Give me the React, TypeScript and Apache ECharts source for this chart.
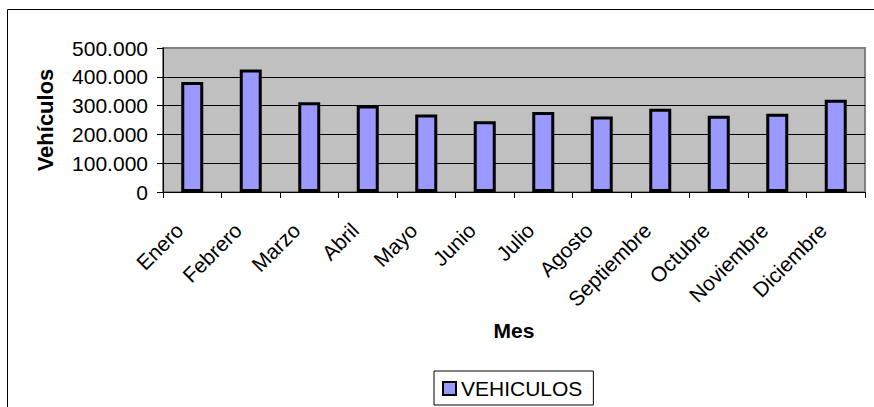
import React, { useEffect, useRef } from "react";
import * as echarts from "echarts";

const months = ["Enero", "Febrero", "Marzo", "Abril", "Mayo", "Junio", "Julio", "Agosto", "Septiembre", "Octubre", "Noviembre", "Diciembre"];
const vehiculos = [382000, 425000, 312000, 300000, 269000, 246000, 278000, 262000, 289000, 265000, 272000, 320000];
const seriesName = "VEHICULOS";
const xTitle = "Mes";
const yTitle = "Vehículos";

const fmt = (v: number) => String(v).replace(/\B(?=(\d{3})+(?!\d))/g, ".");

export default function App() {
  const ref = useRef<HTMLDivElement>(null);
  useEffect(() => {
    const chart = echarts.init(ref.current!, null, { renderer: "svg" });
    const font = "Liberation Sans, Arial, sans-serif";
    chart.setOption({
      animation: false,
      backgroundColor: "#ffffff",
      textStyle: { fontFamily: font },
      graphic: [
        {
          type: "rect",
          shape: { x: 7.5, y: 9.5, width: 1000, height: 1000 },
          style: { fill: "none", stroke: "#000", lineWidth: 1 },
          silent: true,
        },
      ],
      grid: {
        left: 163,
        top: 48,
        right: 9,
        bottom: 215,
        show: true,
        backgroundColor: "#c0c0c0",
        borderColor: "#808080",
        borderWidth: 2,
      },
      legend: {
        left: 434,
        top: 371,
        data: [seriesName],
        icon: "rect",
        itemWidth: 13,
        itemHeight: 13,
        padding: [7, 11, 6, 8],
        borderColor: "#000",
        borderWidth: 1,
        backgroundColor: "#fff",
        textStyle: { fontSize: 21, color: "#000", fontFamily: font },
        itemStyle: { borderColor: "#000", borderWidth: 2 },
      },
      xAxis: {
        type: "category",
        data: months,
        name: xTitle,
        nameLocation: "middle",
        nameGap: 128,
        nameTextStyle: { fontSize: 21, fontWeight: "bold", color: "#000" },
        axisLine: { lineStyle: { color: "#000", width: 1 } },
        axisTick: { show: true, alignWithLabel: false, length: 6, lineStyle: { color: "#000" } },
        axisLabel: { rotate: 45, fontSize: 21, color: "#000", margin: 22, padding: [0, 18, 0, 0], interval: 0 },
      },
      yAxis: {
        type: "value",
        min: 0,
        max: 500000,
        interval: 100000,
        name: yTitle,
        nameLocation: "middle",
        nameGap: 107,
        nameTextStyle: { fontSize: 22, fontWeight: "bold", color: "#000" },
        axisLine: { show: true, lineStyle: { color: "#000", width: 1 } },
        axisTick: { show: true, length: 6, lineStyle: { color: "#000" } },
        axisLabel: { fontSize: 21, color: "#000", margin: 15, formatter: (v: number) => fmt(v) },
        splitLine: { show: true, lineStyle: { color: ["#000", "#000", "#000", "#000", "#000", "#808080"], width: 1 } },
      },
      series: [
        {
          name: seriesName,
          type: "bar",
          data: vehiculos,
          barWidth: 22,
          itemStyle: { color: "#9999ff", borderColor: "#000", borderWidth: 3 },
        },
      ],
    });
    return () => chart.dispose();
  }, []);
  return <div ref={ref} style={{ position: "fixed", left: 0, top: 0, width: 874, height: 407 }} />;
}
